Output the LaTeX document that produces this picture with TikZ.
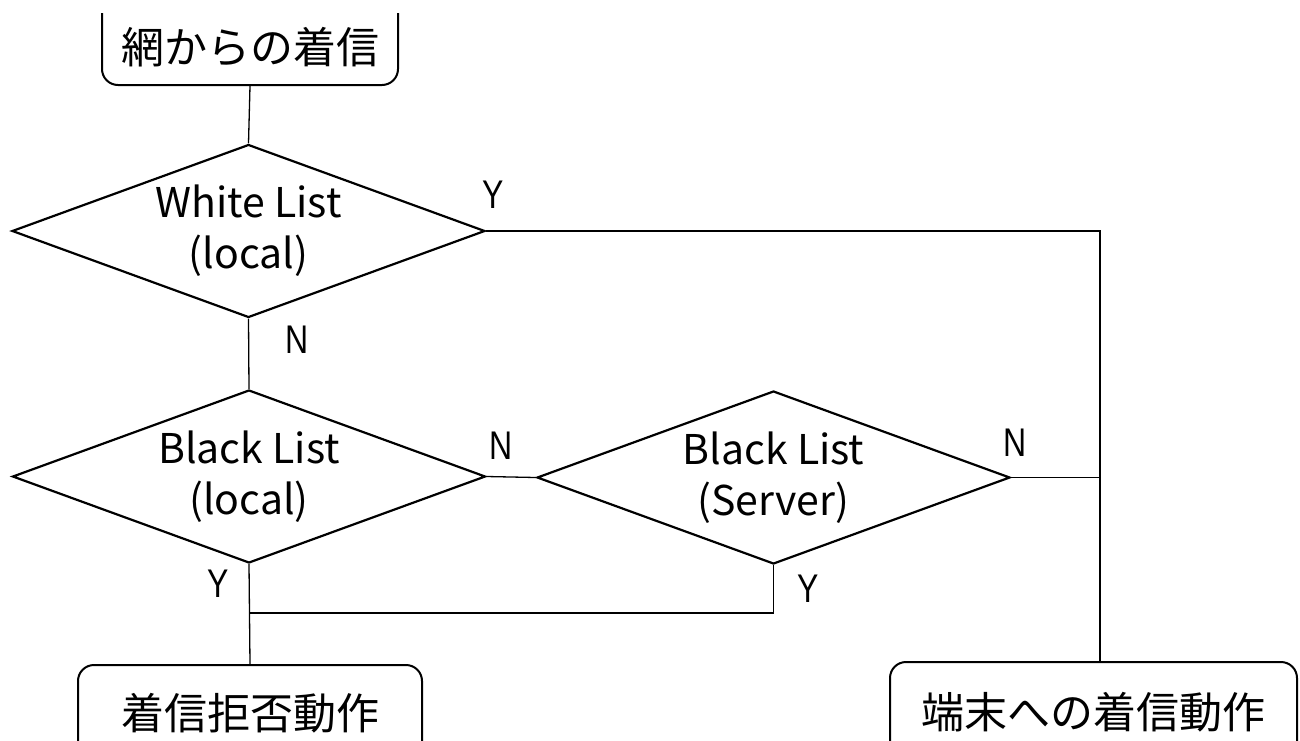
\documentclass[tikz,border=0pt]{standalone}
\usepackage{fontspec}
\usepackage{graphicx}
\setmainfont{Noto Sans CJK JP}
\newfontfamily\ynfont{Liberation Sans}
\usetikzlibrary{shapes.geometric}
\begin{document}
\begin{tikzpicture}[x=1pt,y=-1pt,
  dec/.style={diamond, draw, line width=2.2pt, minimum width=473pt, minimum height=173pt,
    shape aspect=2.72, inner sep=0pt, align=center, font=\fontsize{41}{51}\selectfont},
  term/.style={draw, rounded corners=16pt, line width=2pt, inner sep=0pt,
    font=\fontsize{43}{50}\selectfont},
  conn/.style={line width=1.3pt},
  yn/.style={inner sep=0pt, font=\ynfont\fontsize{40}{48}\selectfont}]
\useasboundingbox (0,0) rectangle (1300,740);
\fill[white] (0,0) rectangle (1300,740);

\begin{scope}
  \clip (0,13) rectangle (1300,740);
  \node[term, minimum width=296pt, minimum height=115pt, text height=80pt, text depth=9pt]
    (src) at (250,27.5) {網からの着信};
\end{scope}

\node[dec] (d1) at (248.5,231) {White List\\(local)};
\node[dec] (d2) at (249,476.5) {Black List\\(local)};
\node[dec] (d3) at (773.5,477.5) {Black List\\(Server)};

\node[term, minimum width=344pt, minimum height=96pt] (rej) at (250,713) {着信拒否動作};
\node[term, minimum width=407pt, minimum height=100pt] (acc) at (1093.5,712) {端末への着信動作};
\coordinate (accin) at ([xshift=6.5pt]acc.north);
\coordinate (merge) at (249,613);

\draw[conn] (src.south) -- (d1.north);
\draw[conn] (d1.south) -- (d2.north);
\draw[conn] (d1.east) -| (accin);
\draw[conn] (d2.east) -- (d3.west);
\draw[conn] (d3.east) -- (d3.east -| accin);
\draw[conn] (d2.south) -- (rej.north);
\draw[conn] (d3.south) |- (merge);

\node[yn] (ly1) at (493,195) {\scalebox{0.8}[1]{Y}};
\node[yn] (ln1) at (297,340) {\scalebox{0.8}[1]{N}};
\node[yn] (ln2) at (501,446) {\scalebox{0.8}[1]{N}};
\node[yn] (ly2) at (218,584) {\scalebox{0.8}[1]{Y}};
\node[yn] (ln3) at (1015,443) {\scalebox{0.8}[1]{N}};
\node[yn] (ly3) at (808,589) {\scalebox{0.8}[1]{Y}};
\end{tikzpicture}
\end{document}
